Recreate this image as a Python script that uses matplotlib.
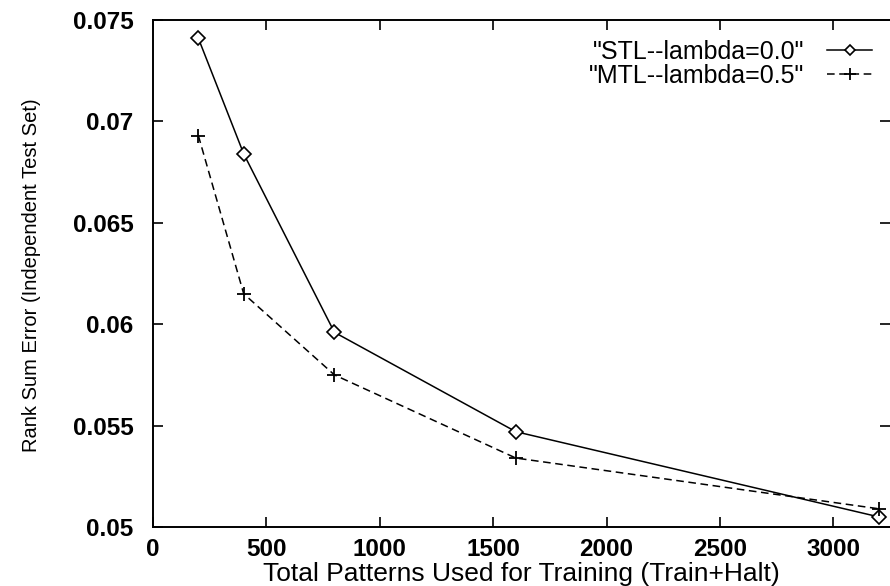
import matplotlib
matplotlib.use("Agg")
import matplotlib.pyplot as plt

# training set sizes and rank sum error on the independent test set
patterns = [200, 400, 800, 1600, 3200]
stl_err = [0.0741, 0.0684, 0.0596, 0.0547, 0.0505]
mtl_err = [0.0693, 0.0615, 0.0575, 0.0534, 0.0509]
stl_label = '"STL--lambda=0.0"'
mtl_label = '"MTL--lambda=0.5"'
x_ticks = [0, 500, 1000, 1500, 2000, 2500, 3000]
y_ticks = [0.05, 0.055, 0.06, 0.065, 0.07, 0.075]
y_tick_labels = ["0.05", "0.055", "0.06", "0.065", "0.07", "0.075"]

plt.rcParams['font.family'] = ['Liberation Sans', 'DejaVu Sans']

fig = plt.figure(figsize=(8.9, 5.86), dpi=100)
ax = fig.add_axes([153 / 890, 1 - 527 / 586, 1 - 153 / 890, (527 - 20) / 586])

ax.plot(patterns, stl_err, color='black', lw=1.1, marker='D', ms=7,
        mfc='white', mec='black', mew=1.2, label=stl_label, zorder=3)
ax.plot(patterns, mtl_err, color='black', lw=1.1, ls=(0, (5, 3)), marker='+',
        ms=10, mew=1.3, label=mtl_label, zorder=3)

ax.set_xlim(0, 3250)
ax.set_ylim(0.05, 0.075)
ax.set_xticks(x_ticks)
ax.set_yticks(y_ticks)
ax.set_yticklabels(y_tick_labels)
ax.tick_params(direction='in', length=7, width=1.2, top=True, right=True,
               labelsize=17.5)
ax.tick_params(axis='x', pad=8)
ax.tick_params(axis='y', pad=14)
for lbl in ax.get_xticklabels() + ax.get_yticklabels():
    lbl.set_fontweight('bold')
for s in ['left', 'bottom', 'top']:
    ax.spines[s].set_linewidth(1.4)
ax.spines['right'].set_visible(False)

ax.set_xlabel('Total Patterns Used for Training (Train+Halt)', fontsize=19,
              labelpad=1)
fig.text(32 / 890, 1 - 275 / 586, 'Rank Sum Error (Independent Test Set)',
         rotation=90, ha='center', va='center', fontsize=14.5)

leg = ax.legend(loc='upper right', bbox_to_anchor=(872 / 890, 1 - 40 / 586),
                bbox_transform=fig.transFigure, frameon=False, markerfirst=False,
                fontsize=18, handlelength=1.8, handletextpad=0.9,
                labelspacing=0.0, borderpad=0, borderaxespad=0, markerscale=0.8)
for t in leg.get_texts():
    t.set_ha('right')

fig.savefig('out.png', dpi=100)
